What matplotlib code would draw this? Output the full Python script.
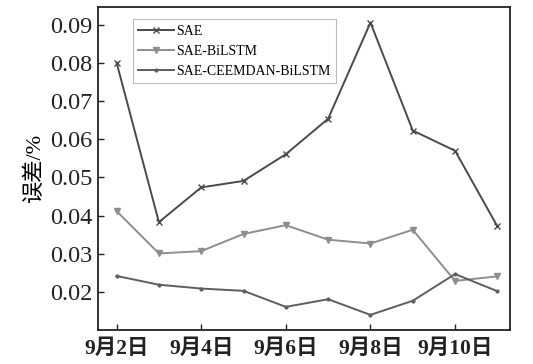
import matplotlib
matplotlib.use('Agg')
import matplotlib.pyplot as plt
import numpy as np

plt.rcParams['font.family'] = ['Liberation Serif', 'Noto Sans CJK SC']
plt.rcParams['mathtext.fontset'] = 'stix'

# daily prediction error of the three models, 2-11 September
days = [2, 3, 4, 5, 6, 7, 8, 9, 10, 11]
sae = [0.0801, 0.0383, 0.0474, 0.0491, 0.0561, 0.0654, 0.0906, 0.0623, 0.0570, 0.0372]
sae_bilstm = [0.0412, 0.0301, 0.0307, 0.0352, 0.0375, 0.0337, 0.0327, 0.0363, 0.0229, 0.0241]
sae_ceemdan_bilstm = [0.0242, 0.0219, 0.0209, 0.0203, 0.0161, 0.0181, 0.0140, 0.0177, 0.0247, 0.0202]

tick_days = [2, 4, 6, 8, 10]
tick_labels = ['9月%d日' % d for d in tick_days]
yticks = [0.02, 0.03, 0.04, 0.05, 0.06, 0.07, 0.08, 0.09]

fig = plt.figure(figsize=(5.33, 3.64), dpi=100)
ax = fig.add_axes([0.183, 0.093, 0.774, 0.887])

ax.plot(days, sae, color='#4a4a4a', lw=1.4, marker='x', ms=5, mew=1.0, label='SAE')
ax.plot(days, sae_bilstm, color='#8e8e8e', lw=1.4, marker='v', ms=4, label='SAE-BiLSTM')
ax.plot(days, sae_ceemdan_bilstm, color='#5e5e5e', lw=1.4, marker='.', ms=4, label='SAE-CEEMDAN-BiLSTM')

ax.set_xlim(1.55, 11.3)
ax.set_ylim(0.010, 0.0946)
ax.set_xticks(tick_days)
ax.set_xticklabels(tick_labels, fontsize=15.5, fontweight='bold')
ax.set_yticks(yticks)
ax.set_yticklabels(['%.2f' % v for v in yticks], fontsize=17.5)
ax.tick_params(direction='in', length=4, width=1.0, colors='#222222')
ax.tick_params(axis='x', pad=6)
for s in ax.spines.values():
    s.set_linewidth(1.3)
    s.set_color('#222222')

ax.set_ylabel('误差/%', fontsize=16, labelpad=4)

leg = ax.legend(loc='upper left', bbox_to_anchor=(0.068, 0.985), fontsize=10,
                handlelength=2.6, handletextpad=0.15, labelspacing=0.5,
                borderpad=0.4, fancybox=False, framealpha=1)
leg.get_frame().set_edgecolor('#bbbbbb')
leg.get_frame().set_linewidth(0.8)

fig.savefig('out.png', dpi=100)
